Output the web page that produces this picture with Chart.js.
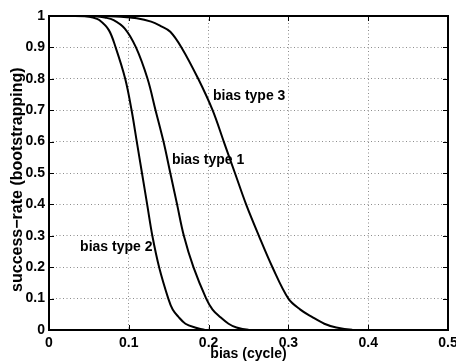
<!DOCTYPE html>
<html>
<head>
<meta charset="utf-8">
<script src="https://cdn.jsdelivr.net/npm/chart.js@4/dist/chart.umd.min.js"></script>
<style>
html,body{margin:0;padding:0;background:#fff;}
canvas{display:block;}
</style>
</head>
<body>
<canvas id="c" width="456" height="363"></canvas>
<script>
// ---- data ----
const type2X = [0, 0.03, 0.045, 0.055, 0.063, 0.075, 0.0835, 0.0955, 0.1035, 0.110, 0.1165, 0.123, 0.1295, 0.138, 0.1495, 0.155, 0.162, 0.171, 0.183, 0.195, 0.22, 0.5];
const type2Y = [1, 1, 0.999, 0.995, 0.987, 0.955, 0.9, 0.8, 0.7, 0.6, 0.5, 0.4, 0.3, 0.2, 0.1, 0.065, 0.0425, 0.02, 0.008, 0.001, 0, 0];

const type1X = [0, 0.04, 0.058, 0.07, 0.081, 0.095, 0.109, 0.1235, 0.1335, 0.1435, 0.152, 0.1605, 0.169, 0.181, 0.197, 0.205, 0.214, 0.225, 0.235, 0.25, 0.28, 0.5];
const type1Y = [1, 1, 0.999, 0.995, 0.987, 0.96, 0.9, 0.8, 0.7, 0.6, 0.5, 0.4, 0.3, 0.2, 0.1, 0.065, 0.0425, 0.02, 0.008, 0.001, 0, 0];

const type3X = [0, 0.06, 0.09, 0.11, 0.128, 0.14, 0.152, 0.166, 0.187, 0.205, 0.219, 0.233, 0.247, 0.263, 0.28, 0.3, 0.315, 0.329, 0.345, 0.36, 0.38, 0.42, 0.5];
const type3Y = [1, 1, 0.998, 0.993, 0.982, 0.968, 0.95, 0.9, 0.8, 0.7, 0.6, 0.5, 0.4, 0.3, 0.2, 0.1, 0.065, 0.0425, 0.02, 0.008, 0.001, 0, 0];

const xTickLabels = ['0', '0.1', '0.2', '0.3', '0.4', '0.5'];
const yTickLabels = ['0', '0.1', '0.2', '0.3', '0.4', '0.5', '0.6', '0.7', '0.8', '0.9', '1'];

const curveNames = ['bias type 1', 'bias type 2', 'bias type 3'];
const labelX = [0.154, 0.039, 0.2055];
const labelY = [0.541, 0.265, 0.746];

const xTitle = 'bias (cycle)';
const yTitle = 'success\u2212rate (bootstrapping)';

function pts(xs, ys) { return xs.map((x, i) => ({x: x, y: ys[i]})); }

const FONT = '"Liberation Sans", Arial, sans-serif';

const lineStyle = {
  showLine: true, pointRadius: 0, borderColor: '#000', borderWidth: 2,
  tension: 0.35, fill: false
};

const innerTicks = {
  id: 'innerTicks',
  afterDraw(chart) {
    const ctx = chart.ctx;
    const a = chart.chartArea;
    const xs = chart.scales.x, ys = chart.scales.y;
    ctx.save();
    ctx.strokeStyle = '#000';
    ctx.lineWidth = 1;
    const L = 5;
    xs.ticks.forEach(t => {
      const px = Math.round(xs.getPixelForValue(t.value)) + 0.5;
      ctx.beginPath();
      ctx.moveTo(px, a.bottom); ctx.lineTo(px, a.bottom - L);
      ctx.moveTo(px, a.top); ctx.lineTo(px, a.top + L);
      ctx.stroke();
    });
    ys.ticks.forEach(t => {
      const py = Math.round(ys.getPixelForValue(t.value)) + 0.5;
      ctx.beginPath();
      ctx.moveTo(a.left, py); ctx.lineTo(a.left + L, py);
      ctx.moveTo(a.right, py); ctx.lineTo(a.right - L, py);
      ctx.stroke();
    });
    ctx.lineWidth = 2;
    ctx.strokeRect(a.left, a.top, a.right - a.left, a.bottom - a.top);
    // curve labels
    ctx.fillStyle = '#000';
    ctx.font = 'bold 14px ' + FONT;
    ctx.textAlign = 'left';
    ctx.textBaseline = 'middle';
    curveNames.forEach((n, i) => {
      ctx.fillText(n, xs.getPixelForValue(labelX[i]), ys.getPixelForValue(labelY[i]));
    });
    ctx.restore();
  }
};

new Chart(document.getElementById('c'), {
  type: 'scatter',
  data: {
    datasets: [
      Object.assign({label: curveNames[0], data: pts(type1X, type1Y)}, lineStyle),
      Object.assign({label: curveNames[1], data: pts(type2X, type2Y)}, lineStyle),
      Object.assign({label: curveNames[2], data: pts(type3X, type3Y)}, lineStyle)
    ]
  },
  options: {
    responsive: false,
    animation: false,
    devicePixelRatio: 1,
    layout: {padding: {top: 16, right: 8, left: 0, bottom: 0}},
    plugins: {legend: {display: false}, tooltip: {enabled: false}},
    scales: {
      x: {
        type: 'linear', min: 0, max: 0.5,
        afterBuildTicks(s) { s.ticks = xTickLabels.map((l, i) => ({value: i * 0.1})); },
        ticks: {
          callback: (v, i) => xTickLabels[i],
          color: '#000', padding: 5, maxRotation: 0, autoSkip: false,
          font: {family: FONT, size: 14, weight: 'bold'}
        },
        grid: {color: '#8c8c8c', lineWidth: 1, drawTicks: false},
        border: {display: false, dash: [1, 2.5]},
        title: {
          display: true, text: xTitle, color: '#000', padding: {top: 0, bottom: 0},
          font: {family: FONT, size: 14, weight: 'bold'}
        },
        afterFit(s) { s.height = 33; s.paddingLeft = 0; s.paddingRight = 0; }
      },
      y: {
        type: 'linear', min: 0, max: 1,
        afterBuildTicks(s) { s.ticks = yTickLabels.map((l, i) => ({value: i * 0.1})); },
        ticks: {
          callback: (v, i) => yTickLabels[i],
          color: '#000', padding: 4, autoSkip: false,
          font: {family: FONT, size: 14, weight: 'bold'}
        },
        grid: {color: '#8c8c8c', lineWidth: 1, drawTicks: false},
        border: {display: false, dash: [1, 2.5]},
        title: {
          display: true, text: yTitle + '\u00a0\u00a0\u00a0', color: '#000', padding: {top: 8, bottom: 0},
          font: {family: FONT, size: 16, weight: 'bold'}
        },
        afterFit(s) { s.width = 49; s.paddingTop = 0; s.paddingBottom = 0; }
      }
    }
  },
  plugins: [innerTicks]
});
</script>
</body>
</html>
